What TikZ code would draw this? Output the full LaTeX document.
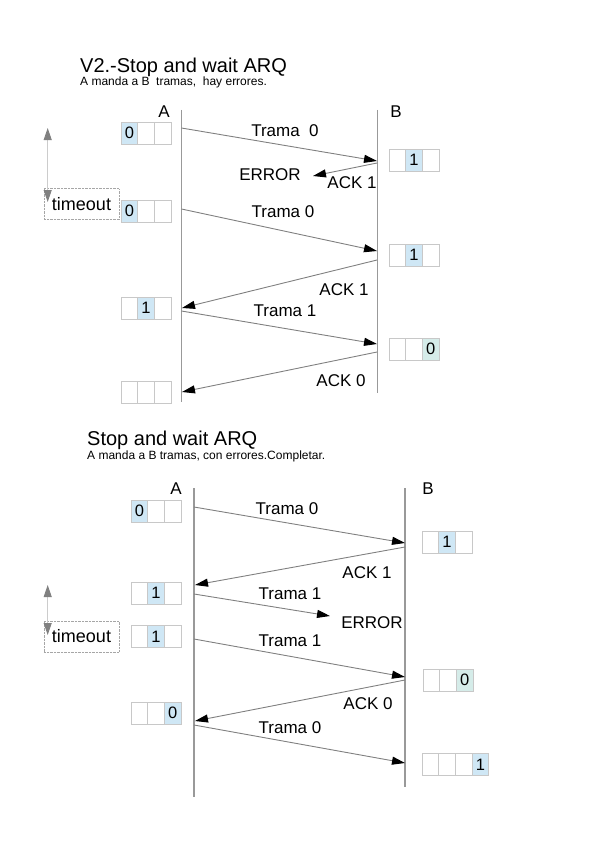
\documentclass[tikz,border=0pt]{standalone}
\usepackage{fontspec}
\setmainfont{Liberation Sans}
\usetikzlibrary{arrows.meta}
\definecolor{celda}{HTML}{CFE7F5}
\definecolor{celdav}{HTML}{D5ECE9}
\definecolor{bordecel}{HTML}{C8C8C8}
\definecolor{linea}{HTML}{808080}

\begin{document}
\begin{tikzpicture}[x=1pt, y=-1pt,
  lbl/.style={font=\fontsize{17}{20}\selectfont, inner sep=0pt},
  titulo/.style={font=\fontsize{20}{24}\selectfont, inner sep=0pt, anchor=base west},
  subtit/.style={font=\fontsize{12}{14}\selectfont, inner sep=0pt, anchor=base west},
  cell/.style={draw=bordecel, line width=0.8pt, minimum width=16.7pt, minimum height=22pt,
               inner sep=0pt, font=\fontsize{16.5}{18}\selectfont},
  vida/.style={draw=linea!80, line width=1.3pt},
  msg/.style={draw=linea, line width=0.9pt, -{Triangle[length=13pt,width=8pt,color=black]}},
  tout/.style={draw=linea!40, line width=0.9pt,
               {Triangle[length=12pt,width=8pt,color=linea]}-{Triangle[length=12pt,width=8pt,color=linea]}},
  tbox/.style={draw=linea!70, densely dotted, minimum width=75pt, minimum height=31pt,
               inner sep=0pt, font=\fontsize{18}{20}\selectfont}
]
\useasboundingbox (0,0) rectangle (599,848);

% ----- titles -----
\node[titulo] (tit1) at (80,73)  {V2.-Stop and wait ARQ};
\node[subtit] (sub1) at (80,86)  {A manda a B~ tramas,~ hay errores.};
\node[titulo] (tit2) at (87,445) {Stop and wait ARQ};
\node[subtit] (sub2) at (87,459) {A manda a B tramas, con errores.Completar.};

% ----- stations -----
\node[lbl] (la1) at (164,112) {A};
\node[lbl] (lb1) at (396,112) {B};
\node[lbl] (la2) at (176,489) {A};
\node[lbl] (lb2) at (428,489) {B};
\coordinate (A1t) at (181.5,110); \coordinate (A1b) at (181.5,402);
\coordinate (B1t) at (377.5,110); \coordinate (B1b) at (377.5,393);
\coordinate (A2t) at (194,488);   \coordinate (A2b) at (194,797);
\coordinate (B2t) at (405,488);   \coordinate (B2b) at (405,787);
\foreach \a/\b in {A1t/A1b, B1t/B1b, A2t/A2b, B2t/B2b}{\draw[vida] (\a) -- (\b);}

% ----- sliding windows (name/left x/centre y/cells/marked cell/digit/colour) -----
\foreach \n/\x/\y/\m/\k/\d/\col in {
    wa1/121/133/3/1/0/celda, wa2/121/211/3/1/0/celda, wa3/121/308/3/2/1/celda,
    wa4/121/392/3/0/{}/celda, wb1/389/160/3/2/1/celda, wb2/389/255/3/2/1/celda,
    wb3/389/349/3/3/0/celdav,
    wc1/131/511/3/1/0/celda, wc2/131/593/3/2/1/celda, wc3/131/636.5/3/2/1/celda,
    wc4/131/713/3/3/0/celda, wd1/422/542/3/2/1/celda, wd2/423/680/3/3/0/celdav,
    wd3/422/764.5/4/4/1/celda}{
  \foreach \j in {1,...,\m}{
    \ifnum\j=\k
      \node[cell, fill=\col] (\n-\j) at ({\x+(\j-0.5)*16.7},\y) {\d};
    \else
      \node[cell] (\n-\j) at ({\x+(\j-0.5)*16.7},\y) {};
    \fi
  }
}

% ----- frames and acks, first diagram -----
\foreach \n/\x/\y in {p1/181.5/128, q1/377/161, q2/377/163, e1/313/176,
    p3/181.5/209, q3/377/251, q4/377/260, p4/182/308, p5/181.5/311, q5/377/344,
    q6/377/352, p6/182/392}{\coordinate (\n) at (\x,\y);}
\foreach \a/\b in {p1/q1, q2/e1, p3/q3, q4/p4, p5/q5, q6/p6}{\draw[msg] (\a) -- (\b);}
\node[lbl] (m1) at (285,131) {Trama~ 0};
\node[lbl] (m2) at (270,175) {ERROR};
\node[lbl] (m3) at (352,183) {ACK 1};
\node[lbl] (m4) at (283,212) {Trama 0};
\node[lbl] (m5) at (344,290) {ACK 1};
\node[lbl] (m6) at (285,311) {Trama 1};
\node[lbl] (m7) at (341,381) {ACK 0};

% ----- frames and acks, second diagram -----
\foreach \n/\x/\y in {r1/194/507, s1/405/543, s2/405/547, r2/195/585, r3/194/594,
    e2/330/616, r4/194/639, s4/405/677, s5/405/680, r5/195/721, r6/194/725,
    s6/405/763}{\coordinate (\n) at (\x,\y);}
\foreach \a/\b in {r1/s1, s2/r2, r3/e2, r4/s4, s5/r5, r6/s6}{\draw[msg] (\a) -- (\b);}
\node[lbl] (n1) at (287,509) {Trama 0};
\node[lbl] (n2) at (367,573) {ACK 1};
\node[lbl] (n3) at (290,594) {Trama 1};
\node[lbl] (n4) at (372,623) {ERROR};
\node[lbl] (n5) at (290,641) {Trama 1};
\node[lbl] (n6) at (368,704) {ACK 0};
\node[lbl] (n7) at (290,728) {Trama 0};

% ----- timeouts -----
\node[tbox] (to1) at (81.5,204)   {timeout};
\node[tbox] (to2) at (81.5,636.5) {timeout};
\coordinate (tu1) at (47.7,128); \coordinate (td1) at (47.7,202);
\coordinate (tu2) at (47.7,585); \coordinate (td2) at (47.7,635);
\draw[tout] (tu1) -- (td1);
\draw[tout] (tu2) -- (td2);
\end{tikzpicture}
\end{document}
